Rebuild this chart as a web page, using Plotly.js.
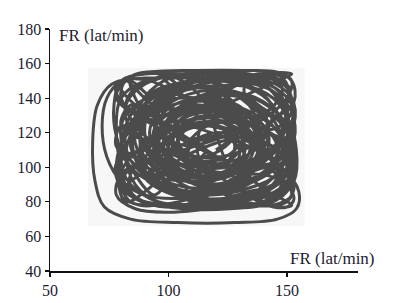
<!DOCTYPE html>
<html>
<head>
<meta charset="utf-8">
<script src="https://cdn.plot.ly/plotly-3.0.1.min.js"></script>
<style>html,body{margin:0;padding:0;background:#fff;}#chart{width:399px;height:303px;}</style>
</head>
<body>
<div id="chart"></div>
<script>
// Heart rate trajectory: FR(t) vs FR(t+1), lat/min
const frX = [
120,135,146,132,110,95,85,90,105,125,
141,149,145,134,117,100,92,98,113,131,
147,152,150,147,135,112,90,80,78,80,
84,100,120,132,128,112,100,104,118,138,
150,152,142,122,102,88,82,86,96,115,
136,146,140,126,108,94,96,110,128,143,
151,149,138,118,98,84,79,82,94,112,
130,144,153,150,140,124,106,92,88,92,
104,124,142,152,153,146,132,114,102,104,
116,132,142,140,128,110,94,86,88,98,
116,138,151,148,136,120,104,92,82,79,
84,96,112,130,146,152,140,126,116,112,
116,124,136,150,153,146,134,118,102,90,
82,80,86,100,116,130,142,152,148,134,
120,106,94,86,84,96,108,116,120,124,
130,138,146,152,150,142,130,116,104,98,
108,122,134,144,150,146,134,118,102,90,
84,86,94,108,126,142,150,148,138,122,
106,94,88,92,104,120,134,140,134,120,
104,90,80,74,72,74,80,92,112,132,
146,152,150,140,124,106,90,80,78,86,
100,118,136,150,154,152,144,128,110,94,
84,76,70,68,69,73,84,104,128,146,
154,155,150,138,120,100,86,80,88,104,
122,136,146,150,146,132,114,98,88,84,
88,98,114,132,146,152,150,140,124,108,
98,96,104,118,132,140,136,124,108,92,
82,78,80,90,106,126,144,153,154,150,
142,126,106,90,82,84,96,112,128,140,
144,136,120,104,96,100,114,130,146,153,
152,144,128,110,94,84,80,82,92,110,
130,146,152,148,134,116,98,88,90,102,
120,138,150,150,140,122,104,90,82,84,
94,110,128,144,152,148,136,118,100,86,
80,82,92,108,124,134,132,120,104,94,
110,122,130,126,114,104,100,108,122,134,
138,132,120,108,100,98,106,118,128,132,
126,114,104,98,104,116,128,136,138,130,
116,104,96,94,100,112,126,136,140,134,
120,108,102,108,120,130,132,124,112,104,
106,116,128,136,134,122,110,100,96,102,
114,126,136,142,140,130,116,104,96,92,
96,108,120,128,126,116,106,100,106,118,
130,140,146,144,136,124,114,108,110,120,
132,142,148,146,138,126,112,100,92,90,
94,104,116,126,130,124,114,106,104,110,
122,134,144,150,148,140,128,116,106,98,
94,96,104,116,128,138,142,138,128,116,
104,94,86,82,86,96,110,124,134,138,
134,124,112,102,96,98,108,120,132,142,
146,142,130,116,104,92,84,80,84,94,
108,124,138,148,152,150,142,130,118,110,
108,114,126,138,146,148,142,130,116,104,
96,94,98,108,122,136,146,148,140,126,
112,100,90,84,84,90,102,118,134,146,
150,146,136,122,110,102,100,106,118,130,
140,146,148,144,134,120,106,96,90,88,
92,102,116,128,136,138,132,120,108,100,
98,104,114,124,128,124,114,106,104,110,
120,128,132,128,118,108,102,104,112,120,
78,84,96,104,98,86,80,82,92,106,112,100,88,80,78,
130,144,152,153,146,136,132,140,150,152,144,132,124,134,148,
153,150,140,128,124,134,148,153,150,138,130,136,146,152,144,
130,112,96,84,80,86,98,108,102,90,80,78,88,100,94,
84,78,77,80,90,110,130,148,153,152,150,138,118,98,84,
80,92,88,80,78,86,98,94,84,80,90,104,116,110,120
];
const frY = [
110,125,140,151,146,135,116,95,84,81,
90,106,126,139,141,128,110,92,80,78,
84,101,121,143,152,154,150,140,120,100,
84,77,86,100,118,124,115,100,95,104,
118,136,148,150,142,128,108,90,80,79,
83,95,112,130,136,122,104,92,90,100,
112,132,145,147,140,124,104,86,78,77,
80,88,100,92,80,77,82,94,112,132,
146,152,150,140,125,110,98,99,110,126,
134,132,120,104,92,88,96,114,136,150,
155,153,146,132,120,114,104,88,80,92,
106,118,128,140,150,154,154,146,130,112,
96,84,78,80,90,102,112,120,128,140,
150,146,136,124,110,98,86,78,77,84,
96,110,124,140,152,155,148,136,120,104,
90,80,78,84,96,108,120,132,144,152,
154,148,136,124,110,96,88,84,88,98,
112,128,142,150,152,146,134,118,106,100,
98,104,118,134,140,136,126,112,96,86,
82,84,92,106,124,140,150,155,156,156,
155,150,140,128,118,110,104,96,84,76,
74,76,78,86,100,116,130,142,146,140,
150,148,136,115,92,77,70,68,68,70,
76,86,96,102,104,100,94,84,78,80,
88,98,112,128,142,150,150,144,132,116,
100,88,82,84,92,106,124,138,144,138,
124,108,94,90,96,110,126,136,138,130,
118,102,88,80,76,76,80,92,110,130,
146,154,154,148,136,122,112,106,108,118,
134,146,150,146,132,116,104,100,104,116,
132,144,150,150,144,130,112,94,82,76,
77,82,94,108,118,124,122,110,94,84,
80,84,96,114,128,138,140,134,120,104,
92,86,88,98,112,128,140,146,144,136,
124,108,96,92,96,108,124,134,134,122,
112,118,110,98,94,100,112,124,126,118,
104,92,88,92,102,116,128,132,128,116,
104,100,106,118,130,136,132,122,108,98,
94,98,108,122,134,140,138,128,114,102,
96,104,116,126,128,120,108,100,102,112,
124,130,126,116,104,96,96,104,116,128,
140,142,136,124,110,100,94,96,106,120,
132,142,144,136,124,116,118,128,136,138,
132,124,112,100,92,88,92,102,114,120,
116,106,94,86,82,84,90,98,110,124,
138,146,146,138,124,112,106,110,120,128,
130,126,118,106,94,86,82,82,86,94,
106,120,132,140,142,136,124,112,104,102,
106,114,124,136,146,152,152,146,136,122,
108,98,92,94,102,114,122,124,118,108,
96,86,80,80,86,92,100,112,124,132,
134,130,122,116,104,92,84,82,90,100,
112,122,128,130,138,146,152,154,152,146,
136,124,110,100,96,98,104,114,122,126,
124,116,106,96,86,80,78,80,86,90,
100,110,116,118,116,108,98,90,86,88,
96,108,122,136,146,150,148,140,128,114,
102,94,92,96,104,116,128,134,132,124,
112,102,98,102,112,122,126,120,110,104,
104,110,120,130,134,130,120,108,102,104,
140,152,154,146,136,132,140,150,150,140,130,126,130,138,148,
152,155,150,138,130,134,146,152,146,132,122,128,142,150,152,
100,86,78,80,90,96,92,82,77,80,92,100,96,84,78,
80,77,78,80,92,100,96,86,78,80,88,102,106,96,84,
100,118,136,150,154,154,153,150,134,112,90,78,77,78,84,
96,104,118,124,112,108,120,132,136,124,116,118,110,100,92
];
const xTicks = [50, 100, 150];
const yTicks = [40, 60, 80, 100, 120, 140, 160, 180];
const axisTitle = "FR (lat/min)";

const font = "Liberation Serif, Times New Roman, serif";
const trace = {
  x: frX, y: frY, type: "scatter", mode: "lines",
  line: {color: "#4b4b4b", width: 3, shape: "spline", smoothing: 1},
  hoverinfo: "skip"
};
const axisBase = {
  showgrid: false, zeroline: false, showline: true, linecolor: "#111", linewidth: 1.5,
  ticks: "outside", ticklen: 4, tickwidth: 1.2, tickcolor: "#111",
  tickfont: {family: font, size: 16, color: "#1c1c30"}, tickmode: "array"
};
const layout = {
  width: 399, height: 303,
  margin: {l: 50, r: 41, t: 29, b: 32},
  paper_bgcolor: "#fff", plot_bgcolor: "#fff",
  showlegend: false,
  xaxis: Object.assign({}, axisBase, {range: [50, 180], tickvals: xTicks, ticktext: xTicks.map(String)}),
  yaxis: Object.assign({}, axisBase, {range: [40, 180], tickvals: yTicks, ticktext: yTicks.map(String)}),
  shapes: [{type: "rect", xref: "x", yref: "y", x0: 66, x1: 157.5, y0: 66, y1: 157.5,
            fillcolor: "#f7f7f7", line: {width: 0}, layer: "below"}],
  annotations: [
    {text: axisTitle, xref: "x", yref: "y", x: 53, y: 176.5, xanchor: "left", yanchor: "middle",
     showarrow: false, font: {family: font, size: 17, color: "#1c1c30"}},
    {text: axisTitle, xref: "x", yref: "y", x: 150.5, y: 47.5, xanchor: "left", yanchor: "middle",
     showarrow: false, font: {family: font, size: 17, color: "#1c1c30"}}
  ]
};
Plotly.newPlot("chart", [trace], layout, {staticPlot: true, displayModeBar: false});
</script>
</body>
</html>
